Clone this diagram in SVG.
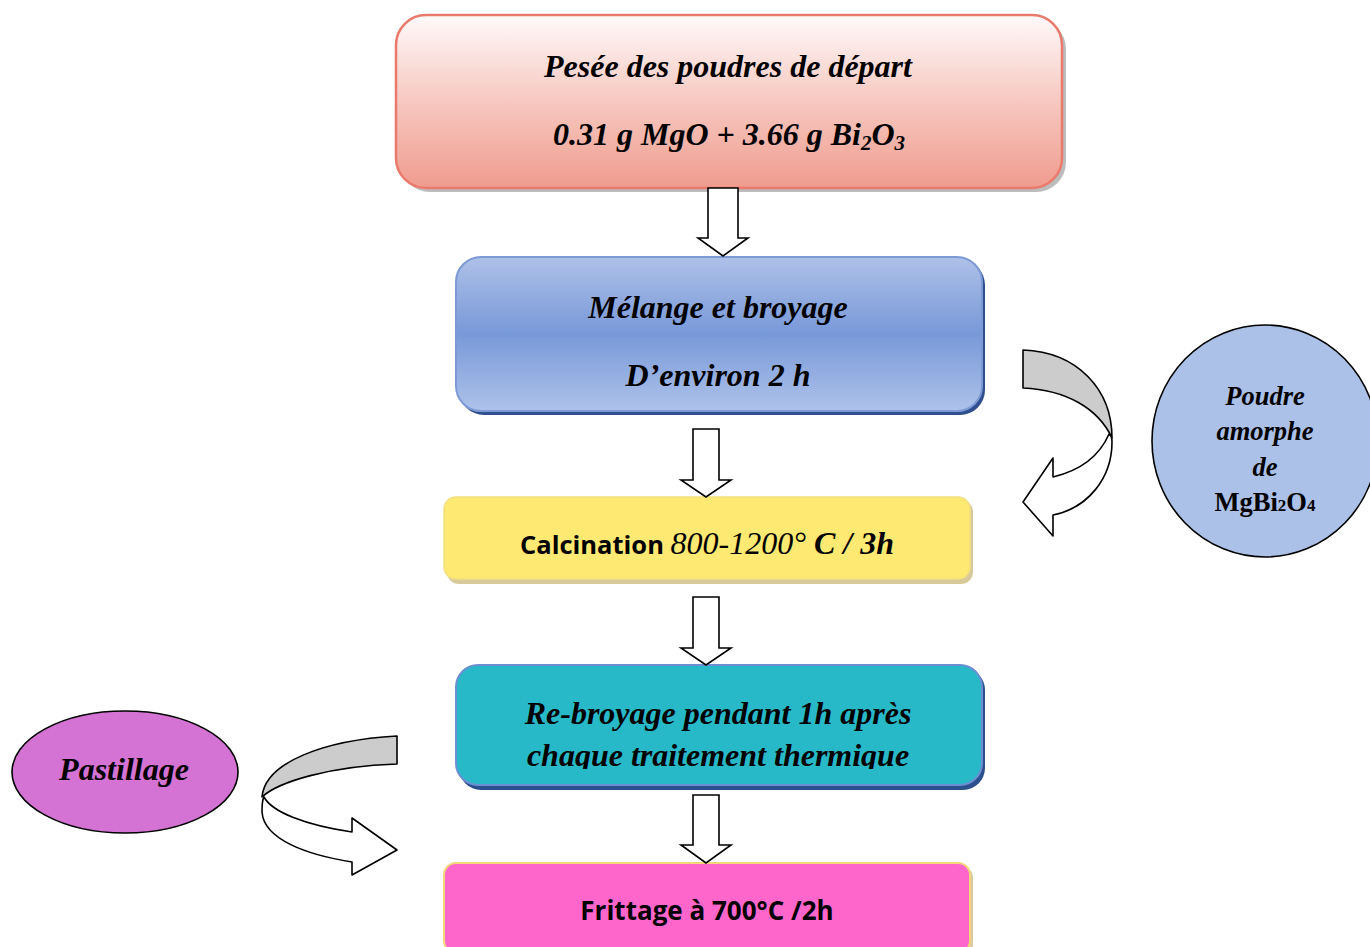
<svg xmlns="http://www.w3.org/2000/svg" width="1370" height="947" viewBox="0 0 1370 947">
<defs>
<linearGradient id="gRed" x1="0" y1="0" x2="0" y2="1">
<stop offset="0" stop-color="#fffafa"/><stop offset="0.5" stop-color="#f6c8c0"/><stop offset="1" stop-color="#f09c8e"/>
</linearGradient>
<linearGradient id="gBlue" x1="0" y1="0" x2="0" y2="1">
<stop offset="0" stop-color="#aec0e8"/><stop offset="0.5" stop-color="#7899d8"/><stop offset="1" stop-color="#aec2ea"/>
</linearGradient>
<clipPath id="c4"><rect x="456" y="665" width="527" height="104"/></clipPath>
</defs>
<style>
.it{font-family:"Liberation Serif","Times New Roman",serif;font-style:italic;font-weight:bold;fill:#000}
.sb{font-family:"Open Sans","Liberation Sans",sans-serif;font-weight:bold;fill:#000}
.rm{font-family:"Liberation Serif","Times New Roman",serif;font-weight:bold;fill:#000}
.arr{fill:#fff;stroke:#000;stroke-width:1.6;stroke-linejoin:miter}
.band{stroke:#000;stroke-width:1.6;stroke-linejoin:round}
</style>

<g id="node-pesee">
<rect x="400" y="19" width="666" height="173" rx="30" fill="#a0a0a0" opacity="0.7"/>
<rect x="396" y="15" width="666" height="173" rx="30" fill="url(#gRed)" stroke="#ea7a6c" stroke-width="2.5"/>
<text class="it" x="728" y="77" font-size="32" text-anchor="middle">Pesée des poudres de départ</text>
<text class="it" x="729" y="145" font-size="32" text-anchor="middle">0.31 g MgO + 3.66 g Bi<tspan font-size="21" dy="5">2</tspan><tspan dy="-5">O</tspan><tspan font-size="21" dy="5">3</tspan></text>
</g>

<g id="node-melange">
<rect x="459" y="260" width="526" height="155" rx="25" fill="#2f4f8f"/>
<rect x="456" y="257" width="526" height="154" rx="25" fill="url(#gBlue)" stroke="#7d9ad6" stroke-width="2"/>
<text class="it" x="718" y="318" font-size="32" text-anchor="middle">Mélange et broyage</text>
<text class="it" x="718" y="386" font-size="32" text-anchor="middle">D’environ 2 h</text>
</g>

<g id="node-calcination">
<rect x="447" y="500" width="526" height="84" rx="12" fill="#d8c99a"/>
<rect x="444" y="497" width="526" height="82" rx="12" fill="#fee972" stroke="#f4df80" stroke-width="1.5"/>
<text x="707" y="554" text-anchor="middle"><tspan class="sb" font-size="25.5">Calcination </tspan><tspan class="it" font-size="32" style="font-weight:normal">800-1200° </tspan><tspan class="it" font-size="32">C / 3h</tspan></text>
</g>

<g id="node-rebroyage">
<rect x="459" y="668" width="526" height="122" rx="22" fill="#2c4f8e"/>
<rect x="456" y="665" width="526" height="120" rx="22" fill="#28b9c9" stroke="#6b8fd2" stroke-width="2"/>
<g clip-path="url(#c4)">
<text class="it" x="718" y="724" font-size="32" text-anchor="middle">Re-broyage pendant 1h après</text>
<text class="it" x="718" y="766" font-size="32" text-anchor="middle">chaque traitement thermique</text>
</g>
</g>

<g id="node-frittage">
<rect x="447" y="866" width="526" height="90" rx="12" fill="#d9c9a0"/>
<rect x="444" y="863" width="526" height="90" rx="12" fill="#ff66cc" stroke="#f3d67a" stroke-width="2"/>
<text class="sb" x="707" y="920" font-size="26" text-anchor="middle">Frittage à 700°C /2h</text>
</g>

<g id="node-poudre">
<ellipse cx="1265" cy="441" rx="113" ry="116" fill="#abc1e7" stroke="#000" stroke-width="1.6"/>
<text class="it" x="1265" y="405" font-size="26.5" text-anchor="middle">Poudre</text>
<text class="it" x="1265" y="440" font-size="26.5" text-anchor="middle">amorphe</text>
<text class="it" x="1265" y="476" font-size="26.5" text-anchor="middle">de</text>
<text class="rm" x="1265" y="511" font-size="26.5" text-anchor="middle">MgBi<tspan font-size="17">2</tspan>O<tspan font-size="17">4</tspan></text>
</g>

<g id="node-pastillage">
<ellipse cx="125" cy="772" rx="113" ry="61" fill="#d473d4" stroke="#000" stroke-width="1.6"/>
<text class="it" x="124" y="780" font-size="32" text-anchor="middle">Pastillage</text>
</g>

<g id="connectors">
<path class="arr" d="M708,188 L738,188 L738,238 L748,238 L723,256 L698,238 L708,238 Z"/>
<path class="arr" d="M693,429 L719,429 L719,480 L731,480 L706,497 L681,480 L693,480 Z"/>
<path class="arr" d="M693,597 L719,597 L719,648 L731,648 L706,665 L681,648 L693,648 Z"/>
<path class="arr" d="M693,795 L719,795 L719,845 L731,845 L706,863 L681,845 L693,845 Z"/>
<path class="band" fill="#cccccc" d="M1023,350 C1078,352 1112,390 1112,438 C1098,408 1066,390 1023,388 Z"/>
<path class="band" fill="#ffffff" d="M1109,434 C1111,436 1112,437 1112,442 C1112,478 1088,508 1053,515 L1053,536 L1023,502 L1053,458 L1053,477 C1082,470 1100,455 1109,434 Z"/>
<path class="band" fill="#cccccc" d="M397,736 C325,740 265,762 262,797 C278,782 330,766 397,764 Z"/>
<path class="band" fill="#ffffff" d="M264,797 C262,800 262,804 262,812 C264,840 308,855 352,862 L352,875 L397,850 L352,818 L352,832 C305,825 272,812 264,797 Z"/>
</g>
</svg>
